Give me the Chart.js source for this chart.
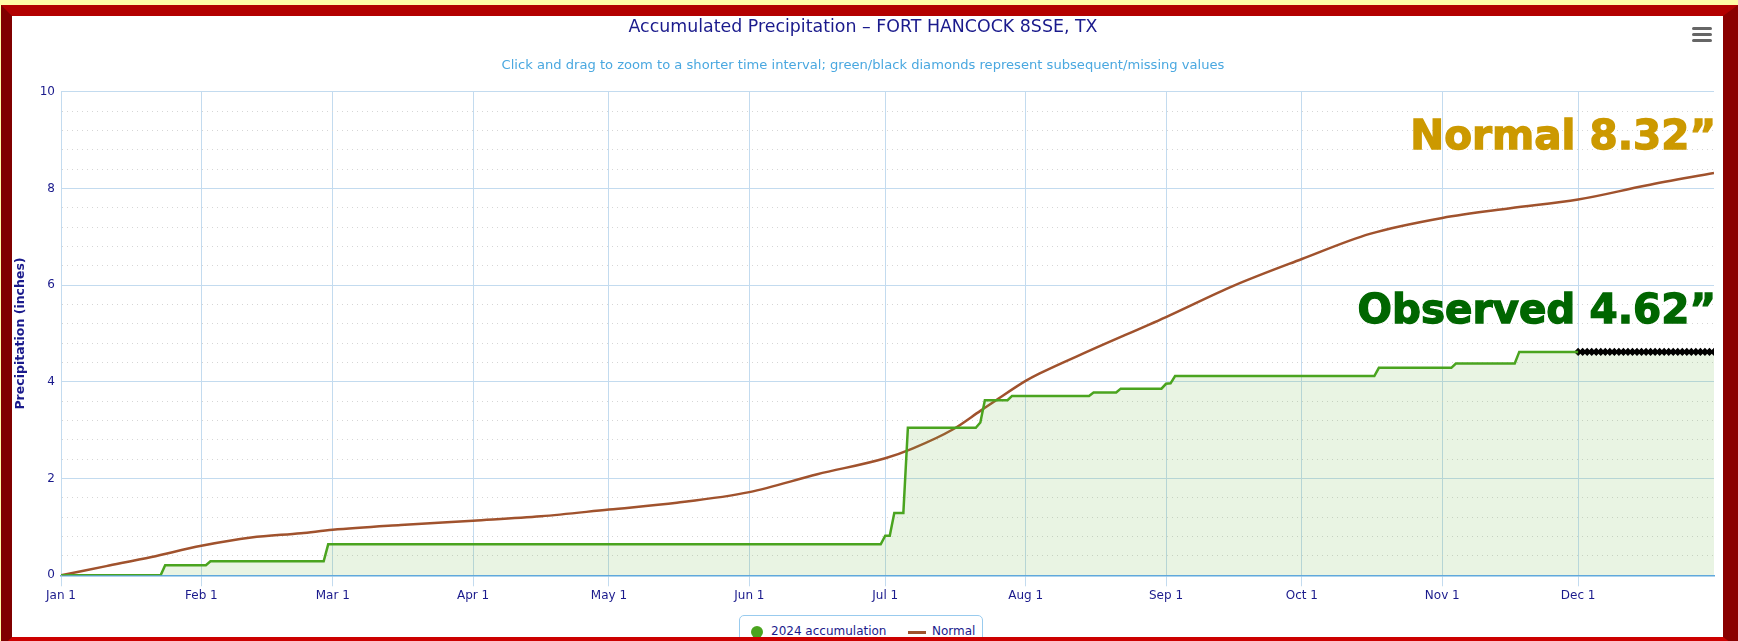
<!DOCTYPE html>
<html>
<head>
<meta charset="utf-8">
<script src="https://cdn.jsdelivr.net/npm/chart.js@4.4.1/dist/chart.umd.min.js"></script>
<style>
  html, body { margin: 0; padding: 0; }
  body {
    width: 1738px; height: 641px; overflow: hidden; position: relative;
    background: #fffaa6; font-family: "DejaVu Sans", sans-serif;
  }
  #frame {
    position: absolute; left: 1px; top: 5px;
    width: 1711px; height: 621px;
    border-style: solid; border-width: 11px 15px 11px 11px;
    border-color: #b30000 #8a0000 #cc0000 #800000;
    background: #fff; overflow: hidden;
  }
  #ghgChart { position: absolute; left: 0; top: 0; }
  .big {
    position: absolute; right: 7px; font-family: "DejaVu Sans", sans-serif;
    font-weight: bold; font-size: 40.5px; line-height: 41px; white-space: nowrap;
    -webkit-text-stroke: 1.3px currentColor;
  }
  #normalNote { top: 99px; color: #cc9900; }
  #obsNote { top: 273px; color: #006600; }
  .bar { position: absolute; left: 1680px; width: 20px; height: 3px; border-radius: 2px; background: #666; }
  #legend {
    position: absolute; left: 727px; top: 599px; width: 244px; height: 40px;
    box-sizing: border-box; border: 1px solid #99cbee; border-radius: 5px; background: #fff;
  }
  #legend span { position: absolute; font-size: 12px; line-height: 14px; color: #1a1a8c; white-space: nowrap; }
  #legend .dot { width: 12px; height: 12px; border-radius: 6px; background: #4aa41f; left: 11px; top: 10px; }
  #legend .line { width: 18px; height: 3px; background: #a0522d; left: 168px; top: 15px; }
</style>
</head>
<body>
<div id="frame">
  <canvas id="ghgChart" width="1711" height="621"></canvas>
  <div class="bar" style="top:11px"></div>
  <div class="bar" style="top:17px"></div>
  <div class="bar" style="top:23px"></div>
  <div id="normalNote" class="big">Normal 8.32”</div>
  <div id="obsNote" class="big">Observed 4.62”</div>
  <div id="legend">
    <span class="dot"></span><span style="left:31px;top:8px">2024 accumulation</span>
    <span class="line"></span><span style="left:192px;top:8px">Normal</span>
  </div>
</div>
<script>
// ----------------------
// DATA (day of year, 0 = Jan 1 2024)
// ----------------------

const monthDays = [0, 31, 60, 91, 121, 152, 182, 213, 244, 274, 305, 335];
const monthLabels = ["Jan 1", "Feb 1", "Mar 1", "Apr 1", "May 1", "Jun 1",
                     "Jul 1", "Aug 1", "Sep 1", "Oct 1", "Nov 1", "Dec 1"];

// 2024 accumulation (inches)
const obsDays = [0, 22, 23, 32, 33, 58, 59, 181, 182, 183, 184, 186, 187, 202, 203, 204,
                 209, 210, 227, 228, 233, 234, 243, 244, 245, 246, 290, 291, 307, 308, 321, 322, 335];
const obsValues = [0, 0, 0.21, 0.21, 0.29, 0.29, 0.64, 0.64, 0.82, 0.82, 1.29, 1.29, 3.05, 3.05, 3.16, 3.62,
                   3.62, 3.71, 3.71, 3.78, 3.78, 3.86, 3.86, 3.96, 3.97, 4.12, 4.12, 4.29, 4.29, 4.38, 4.38, 4.62, 4.62];

// missing values (black diamonds), Dec 1 - Dec 31
const missingDays = [335, 336, 337, 338, 339, 340, 341, 342, 343, 344, 345, 346, 347, 348, 349, 350,
                     351, 352, 353, 354, 355, 356, 357, 358, 359, 360, 361, 362, 363, 364, 365];
const missingValue = 4.62;

// normal accumulation (inches)
const normDays = [0, 10, 20, 31, 42, 53, 60, 75, 91, 106, 121, 136, 152, 167, 182, 188,
                  197, 203, 206, 213, 216, 227, 244, 259, 274, 289, 305, 320, 335, 350, 365];
const normValues = [0, 0.19, 0.38, 0.61, 0.78, 0.87, 0.94, 1.04, 1.13, 1.22, 1.36, 1.50, 1.72, 2.09, 2.42, 2.62,
                    3.02, 3.40, 3.59, 4.02, 4.17, 4.64, 5.34, 5.99, 6.54, 7.06, 7.39, 7.59, 7.77, 8.06, 8.32];

const yMax = 10;
const yMinorStep = 0.4;

// ----------------------
// CHART
// ----------------------

const navy = '#1a1a8c';
Chart.defaults.font.family = '"DejaVu Sans", sans-serif';

const isMajor = v => Math.abs(v / 2 - Math.round(v / 2)) < 1e-6;

const ctx = document.getElementById('ghgChart').getContext('2d');

const chart = new Chart(ctx, {
  type: 'line',
  data: {
    datasets: [
      {
        label: '2024 accumulation',
        data: obsDays.map((d, i) => ({ x: d, y: obsValues[i] })),
        borderColor: '#4aa41f',
        backgroundColor: 'rgba(110,180,70,0.15)',
        borderWidth: 2.5,
        pointRadius: 0,
        fill: 'origin',
        tension: 0
      },
      {
        label: 'missing',
        data: missingDays.map(d => ({ x: d, y: missingValue })),
        borderColor: '#000',
        backgroundColor: 'rgba(110,180,70,0.15)',
        borderWidth: 1.5,
        pointStyle: 'rectRot',
        pointRadius: 3,
        pointBackgroundColor: '#000',
        pointBorderColor: '#000',
        fill: 'origin'
      },
      {
        label: 'Normal',
        data: normDays.map((d, i) => ({ x: d, y: normValues[i] })),
        borderColor: '#a0522d',
        borderWidth: 2.5,
        pointRadius: 0,
        fill: false,
        cubicInterpolationMode: 'monotone'
      }
    ]
  },
  options: {
    responsive: false,
    animation: false,
    layout: { padding: { top: 0, left: 0, right: 9, bottom: 31.7 } },
    plugins: {
      legend: { display: false },
      tooltip: { enabled: false },
      title: {
        display: true,
        text: 'Accumulated Precipitation – FORT HANCOCK 8SSE, TX',
        color: navy,
        font: { size: 17.4, weight: 'normal', lineHeight: 1.2 },
        padding: { top: 1.2, bottom: 19.4 }
      },
      subtitle: {
        display: true,
        text: 'Click and drag to zoom to a shorter time interval; green/black diamonds represent subsequent/missing values',
        color: '#4aa8e0',
        font: { size: 13.1, lineHeight: 1.2 },
        padding: { top: 0, bottom: 18.5 }
      }
    },
    scales: {
      x: {
        type: 'linear',
        min: 0,
        max: 365,
        afterBuildTicks: scale => { scale.ticks = monthDays.map(v => ({ value: v })); },
        afterFit: scale => { scale.height = 30; },
        ticks: {
          autoSkip: false,
          maxRotation: 0,
          padding: 2,
          color: navy,
          font: { size: 12 },
          callback: v => monthLabels[monthDays.indexOf(v)]
        },
        grid: { color: '#c3dbef', tickLength: 11, tickColor: '#c3dbef' },
        border: { color: '#5fa8dc', width: 1.5 }
      },
      y: {
        min: 0,
        max: yMax,
        afterBuildTicks: scale => {
          const t = [];
          for (let i = 0; i * yMinorStep <= yMax + 1e-9; i++) t.push({ value: +(i * yMinorStep).toFixed(2) });
          scale.ticks = t;
        },
        afterFit: scale => { scale.width = 49; },
        title: {
          display: true,
          text: 'Precipitation (inches)',
          color: navy,
          font: { size: 12.5, weight: 'bold', lineHeight: 1.2 },
          padding: { top: 1.5, bottom: 0 }
        },
        ticks: {
          padding: 6,
          color: navy,
          font: { size: 12 },
          callback: v => (isMajor(v) ? String(v) : '')
        },
        grid: {
          drawTicks: false,
          color: c => (c.tick && isMajor(c.tick.value) ? '#c3dbef' : '#d6d6d6'),
          lineWidth: 1
        },
        border: {
          color: '#c3dbef',
          dash: c => (c.tick && !isMajor(c.tick.value) ? [1, 4] : [])
        }
      }
    }
  }
});
</script>
</body>
</html>
